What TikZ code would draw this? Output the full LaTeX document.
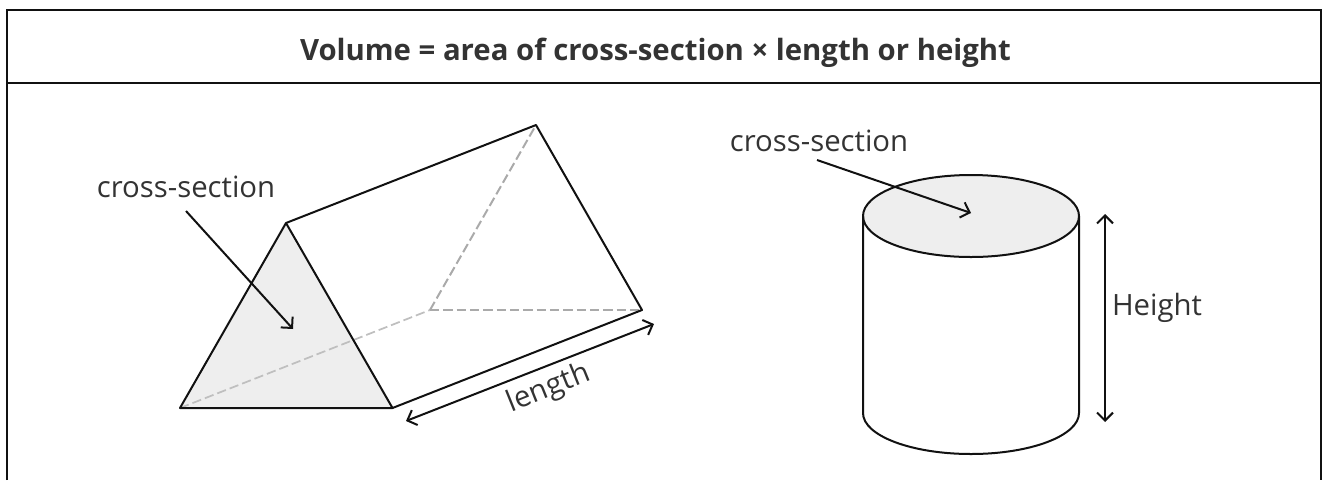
\documentclass[tikz,border=0pt]{standalone}
\usepackage{fontspec}
\setmainfont{Open Sans}
\usetikzlibrary{arrows.meta}
\definecolor{ink}{HTML}{111111}
\definecolor{fillg}{HTML}{EEEEEE}
\definecolor{dashg}{HTML}{AAAAAA}
\definecolor{dashl}{HTML}{BFBFBF}
\definecolor{txt}{HTML}{333333}
\tikzset{x=0.75pt,y=-0.75pt,
 edge/.style={draw=ink,line width=1.5pt,line join=round},
 frameline/.style={draw=ink,line width=1.2pt},
 hidden/.style={draw=dashg,line width=1.5pt,dash pattern=on 7pt off 3pt},
 hiddenlight/.style={draw=dashl,line width=1.3pt,dash pattern=on 7pt off 3pt},
 arr/.style={draw=ink,line width=1.5pt,-{Straight Barb[length=6pt,width=12pt]}},
 dbl/.style={draw=ink,line width=1.5pt,{Straight Barb[length=6pt,width=12pt]}-{Straight Barb[length=6pt,width=12pt]}},
 lab/.style={text=txt,font=\fontsize{22}{26}\selectfont,inner sep=0pt},
}
\begin{document}
\begin{tikzpicture}
\useasboundingbox (0,0) rectangle (1328,480);
\draw[frameline] (7,480) -- (7,10) -- (1321,10) -- (1321,480);
\draw[frameline] (7,83) -- (1321,83);
\node[inner sep=0pt,anchor=base,text=txt,font=\fontsize{22}{28}\selectfont\bfseries] (title) at (655.5,60.5) {Volume = area of cross-section × length or height};
% prism
\coordinate (A) at (180,408);
\coordinate (B) at (392.5,408);
\coordinate (C) at (286,223);
\coordinate (D) at (536,125);
\coordinate (E) at (642,310);
\coordinate (F) at (430,310);
\fill[fillg] (A) -- (B) -- (C) -- cycle;
\draw[hiddenlight] (A) -- (F);
\draw[hidden] (F) -- (D);
\draw[hidden] (F) -- (E);
\draw[edge] (A) -- (B) -- (C) -- cycle;
\draw[edge] (C) -- (D) -- (E) -- (B);
\node[lab] (cs1) at (186,187) {cross-section};
\coordinate (cs1start) at (186,211);
\coordinate (cs1end) at (293,329);
\draw[arr] (cs1start) -- (cs1end);
\coordinate (l1) at (406,421);
\coordinate (l2) at (654,324);
\draw[dbl] (l1) -- (l2);
\node[lab,rotate=22] (len) at (549,389) {length};
% cylinder
\fill[fillg] (971,216) ellipse [x radius=108, y radius=41];
\draw[edge] (971,216) ellipse [x radius=108, y radius=41];
\draw[edge] (863,216) -- (863,413) arc[start angle=180,end angle=0,x radius=108,y radius=41] -- (1079,216);
\node[lab] (cs2) at (819,141) {cross-section};
\coordinate (cs2start) at (817,160);
\coordinate (cs2end) at (971,213);
\draw[arr] (cs2start) -- (cs2end);
\coordinate (h1) at (1105,214);
\coordinate (h2) at (1105,422);
\draw[dbl] (h1) -- (h2);
\node[lab] (h) at (1157,308) {Height};
\end{tikzpicture}
\end{document}
